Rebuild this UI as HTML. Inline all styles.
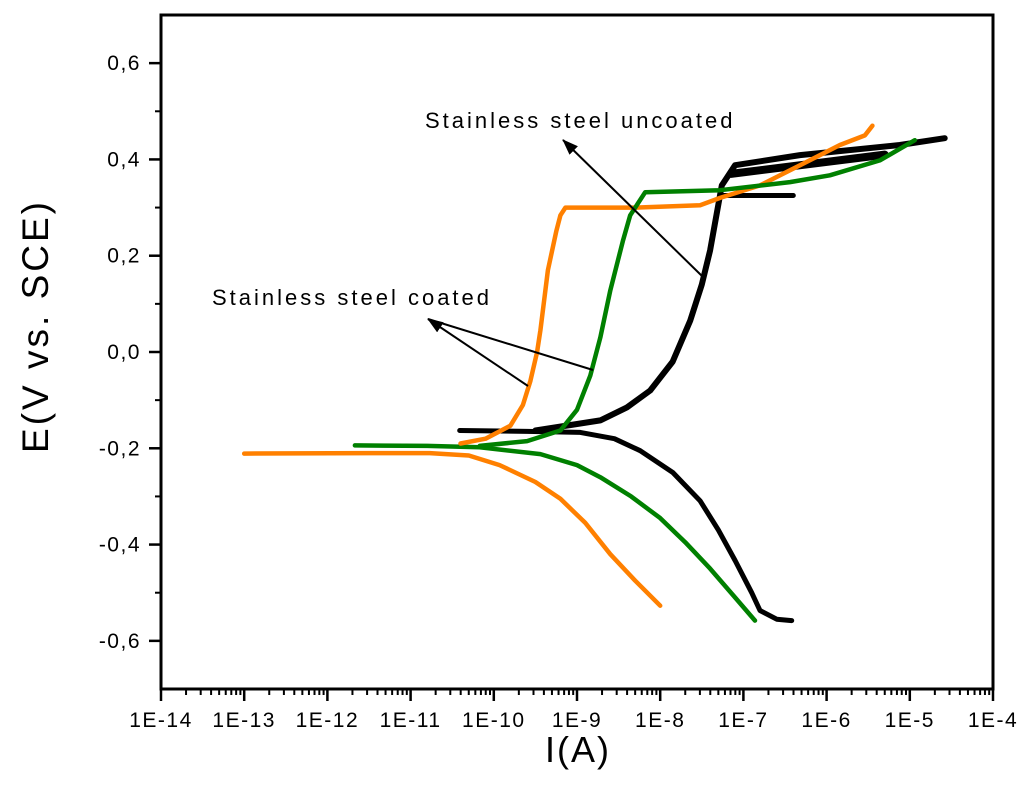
<!DOCTYPE html>
<html><head><meta charset="utf-8"><style>
html,body{margin:0;padding:0;background:#fff;}
svg{display:block;font-family:"Liberation Sans",Arial,sans-serif;}
</style></head><body>
<svg id="chart" width="1024" height="806" viewBox="0 0 1024 806" xmlns="http://www.w3.org/2000/svg">
<defs>
<marker id="ah2" markerWidth="16" markerHeight="12" refX="15" refY="6" orient="auto" markerUnits="userSpaceOnUse"><path d="M0,0 L16,6 L0,12 Z" fill="#000"/></marker></defs>
<g id="series"></g>
<rect x="161" y="15" width="832" height="674" fill="none" stroke="#000" stroke-width="3"/>
<g id="axes"></g>
<text x="578" y="762" font-size="36" letter-spacing="2" text-anchor="middle">I(A)</text>
<text transform="translate(48,326) rotate(-90)" font-size="37" letter-spacing="3" text-anchor="middle">E(V vs. SCE)</text>
<text x="425" y="128" font-size="22" letter-spacing="3">Stainless steel uncoated</text>
<line x1="703" y1="277" x2="563" y2="140" stroke="#000" stroke-width="2" marker-end="url(#ah2)"/>
<text x="212" y="305" font-size="22" letter-spacing="3">Stainless steel coated</text>
<line x1="528" y1="386" x2="428" y2="319" stroke="#000" stroke-width="2" marker-end="url(#ah2)"/>
<line x1="593" y1="370" x2="428" y2="319" stroke="#000" stroke-width="2"/>
</svg>
<script>
const xTickExps=[-14,-13,-12,-11,-10,-9,-8,-7,-6,-5,-4];
const yTicks=[-0.6,-0.4,-0.2,0.0,0.2,0.4,0.6];
const yTickLabels=["-0,6","-0,4","-0,2","0,0","0,2","0,4","0,6"];
// data: [log10(I), E]
const orangeCathodic=[[-13.0,-0.211],[-11.5,-0.21],[-10.77,-0.21],[-10.3,-0.215],[-9.93,-0.235],[-9.5,-0.27],[-9.2,-0.305],[-8.9,-0.355],[-8.6,-0.42],[-8.3,-0.475],[-8.0,-0.527]];
const orangeAnodic=[[-10.4,-0.19],[-10.1,-0.18],[-9.8,-0.153],[-9.65,-0.11],[-9.56,-0.06],[-9.48,0.0],[-9.44,0.045],[-9.35,0.17],[-9.25,0.25],[-9.2,0.284],[-9.14,0.30],[-8.3,0.30],[-7.52,0.305],[-7.28,0.32],[-6.8,0.346],[-6.32,0.388],[-5.84,0.43],[-5.54,0.45],[-5.45,0.47]];
const greenCathodic=[[-11.67,-0.194],[-10.8,-0.195],[-10.17,-0.198],[-9.44,-0.212],[-9.0,-0.235],[-8.72,-0.26],[-8.35,-0.3],[-8.0,-0.345],[-7.7,-0.395],[-7.4,-0.45],[-7.1,-0.51],[-6.86,-0.558]];
const greenAnodic=[[-10.17,-0.195],[-9.6,-0.185],[-9.2,-0.163],[-9.0,-0.12],[-8.84,-0.049],[-8.72,0.03],[-8.6,0.128],[-8.45,0.23],[-8.36,0.284],[-8.18,0.332],[-7.28,0.336],[-6.44,0.353],[-5.96,0.367],[-5.36,0.398],[-4.94,0.44]];
const blackCathodic=[[-10.41,-0.163],[-9.6,-0.165],[-8.96,-0.167],[-8.55,-0.18],[-8.24,-0.205],[-7.85,-0.25],[-7.52,-0.309],[-7.3,-0.37],[-7.1,-0.433],[-6.9,-0.5],[-6.8,-0.537],[-6.6,-0.555],[-6.42,-0.558]];
const blackAnodic=[[-9.5,-0.163],[-8.72,-0.142],[-8.4,-0.115],[-8.12,-0.08],[-7.85,-0.02],[-7.64,0.065],[-7.5,0.14],[-7.4,0.211],[-7.26,0.346],[-7.1,0.388],[-6.32,0.409],[-5.12,0.43],[-4.58,0.444]];
const blackBand=[[-7.25,0.325],[-6.4,0.325]];
const blackBand2=[[-7.15,0.37],[-5.3,0.41]];
const X0=161,X1=993,Y0=689,Y1=15;
const xs=l=>X0+(l+14)/10*(X1-X0);
const ys=e=>Y0-(e+0.7)/1.4*(Y0-Y1);
const NS="http://www.w3.org/2000/svg";
const sg=document.getElementById('series'), ag=document.getElementById('axes');
function mk(tag,attrs,parent){const el=document.createElementNS(NS,tag);for(const k in attrs)el.setAttribute(k,attrs[k]);parent.appendChild(el);return el;}
function line(data,color,w,name){
  const d=data.map((p,i)=>(i?'L':'M')+xs(p[0]).toFixed(1)+','+ys(p[1]).toFixed(1)).join(' ');
  const el=mk('path',{d:d,fill:'none',stroke:color,'stroke-width':w,'stroke-linejoin':'round','stroke-linecap':'round'},sg);
  
  
}
line(orangeCathodic,'#ff8000',4.5,'orange-cathodic-line');
line(greenCathodic,'#008000',4.5,'green-cathodic-line');
line(blackCathodic,'#000',5,'black-cathodic-line');
line(blackBand,'#000',5,'black-band-line');
line(blackBand2,'#000',8,'black-band-upper');
line(blackAnodic,'#000',6,'black-anodic-line');
line(orangeAnodic,'#ff8000',4.5,'orange-anodic-line');
line(greenAnodic,'#008000',4.5,'green-anodic-line');
xTickExps.forEach((e,i)=>{
  const x=xs(e);
  const t=mk('line',{x1:x,y1:Y0,x2:x,y2:Y0+12,stroke:'#000','stroke-width':2.5},ag);
  
  
  const lb=mk('text',{x:x,y:Y0+38,'font-size':21,'letter-spacing':1.5,'text-anchor':'middle'},ag);
  lb.textContent='1E'+e;
  
  
  if(i<xTickExps.length-1){for(let m=2;m<10;m++){const xm=xs(e+Math.log10(m));mk('line',{x1:xm,y1:Y0,x2:xm,y2:Y0+6,stroke:'#000','stroke-width':2},ag);}}
});
yTicks.forEach((v,i)=>{
  const y=ys(v);
  const t=mk('line',{x1:X0-12,y1:y,x2:X0,y2:y,stroke:'#000','stroke-width':2.5},ag);
  
  
  const lb=mk('text',{x:X0-20,y:y+7,'font-size':21,'letter-spacing':1.5,'text-anchor':'end'},ag);
  lb.textContent=yTickLabels[i];
  
  
});
[-0.5,-0.3,-0.1,0.1,0.3,0.5].forEach(v=>{const y=ys(v);mk('line',{x1:X0-6,y1:y,x2:X0,y2:y,stroke:'#000','stroke-width':2},ag);});
</script>
</body></html>
